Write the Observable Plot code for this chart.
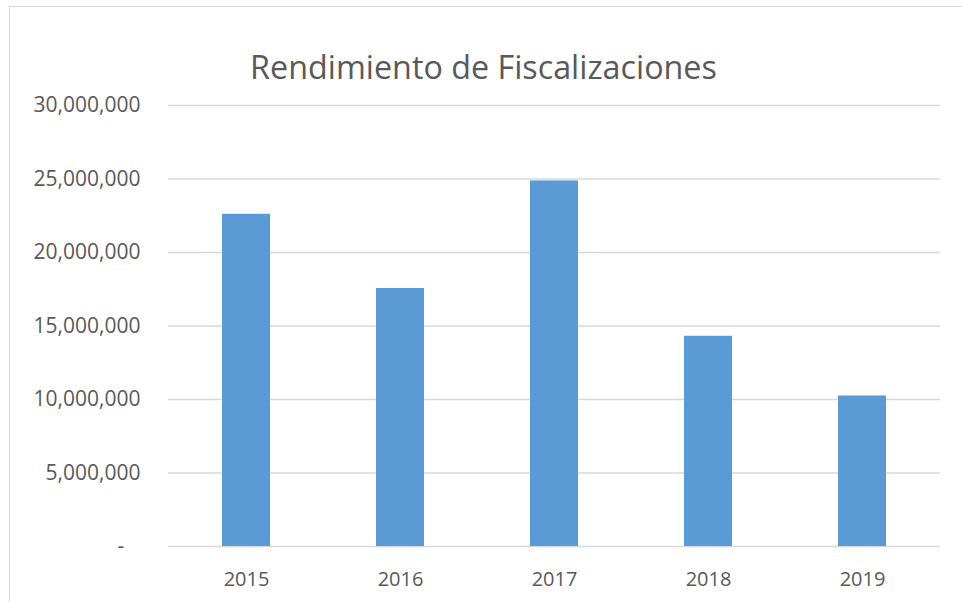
<!DOCTYPE html>
<html>
<head>
<meta charset="utf-8">
<script src="https://cdn.jsdelivr.net/npm/d3@7"></script>
<script src="https://cdn.jsdelivr.net/npm/@observablehq/plot@0.6"></script>
<style>
  html, body { margin: 0; padding: 0; background: #fff; overflow: hidden; }
  #wrap { position: relative; width: 962px; height: 602px; overflow: hidden; }
  #frame { position: absolute; left: 9px; top: 6px; width: 1200px; height: 1200px; border: 1.5px solid #d9d9d9; box-sizing: border-box; }
  #title { position: relative; height: 80px; box-sizing: border-box; padding-top: 52px; padding-left: 5px;
           font-family: "Open Sans", sans-serif; font-size: 32.3px; line-height: 28px; color: #595959; text-align: center; white-space: nowrap; }
  #chart { position: relative; }
</style>
</head>
<body>
<div id="wrap">
  <div id="frame"></div>
  <div id="title">Rendimiento de Fiscalizaciones</div>
  <div id="chart"></div>
</div>
<script>
const years = ["2015", "2016", "2017", "2018", "2019"];
const values = [22600000, 17550000, 24870000, 14300000, 10240000];
const yTicks = [0, 5000000, 10000000, 15000000, 20000000, 25000000, 30000000];

const data = years.map((y, i) => ({year: y, value: values[i]}));
const fmt = d3.format(",");

const chart = Plot.plot({
  width: 962,
  height: 522,
  marginTop: 25,
  marginBottom: 56,
  marginLeft: 168,
  marginRight: 22,
  style: {fontFamily: "'Open Sans', sans-serif", fontSize: "20px", color: "#595959", background: "transparent", overflow: "visible"},
  x: {domain: years, paddingInner: 0.686, paddingOuter: 0.343, label: null},
  y: {domain: [0, 30000000], label: null},
  marks: [
    Plot.ruleY(yTicks, {stroke: "#d9d9d9", strokeWidth: 1.5, strokeOpacity: 1}),
    Plot.barY(data, {x: "year", y: "value", fill: "#5b9bd5"}),
    Plot.axisX({tickSize: 0, tickPadding: 25, label: null, fontSize: 20}),
    Plot.axisY({ticks: yTicks, tickSize: 0, tickPadding: 28, label: null, fontSize: 21,
      tickFormat: d => d === 0 ? "-\u00a0\u00a0\u00a0" : fmt(d)})
  ]
});
document.getElementById("chart").appendChild(chart);
</script>
</body>
</html>
